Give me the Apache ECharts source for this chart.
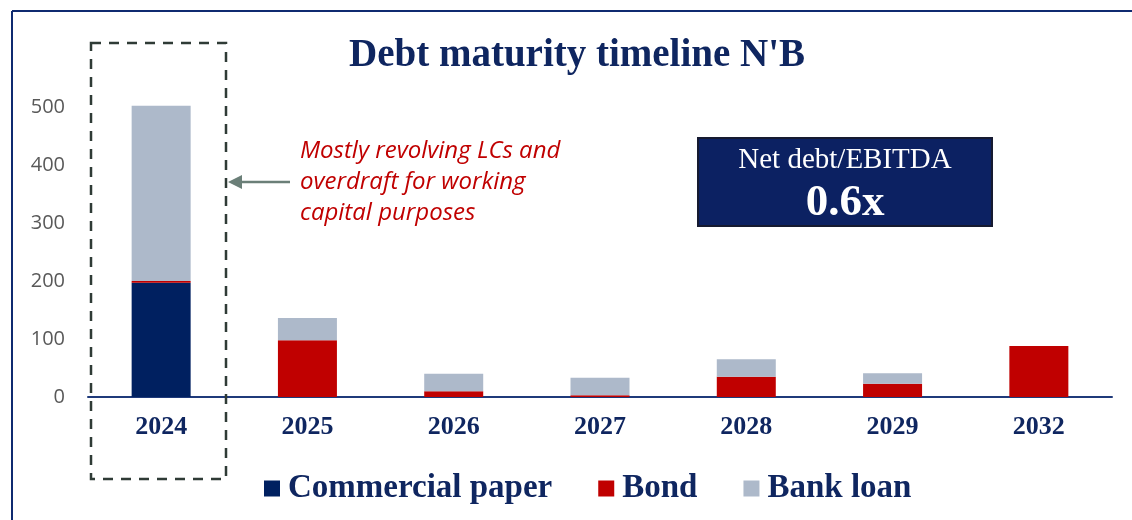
<!DOCTYPE html>
<html>
<head>
<meta charset="utf-8">
<script src="https://cdn.jsdelivr.net/npm/echarts@6/dist/echarts.min.js"></script>
<style>html,body{margin:0;padding:0;background:#fff}#c{width:1132px;height:520px}</style>
</head>
<body>
<div id="c"></div>
<script>
const categories = ['2024','2025','2026','2027','2028','2029','2032'];
const commercialPaper = [197, 0, 0, 0, 0, 0, 0];
const bond = [3, 98, 10, 3, 35, 23, 88];
const bankLoan = [302, 38, 30, 30, 30, 18, 0];
const yTicks = [0, 100, 200, 300, 400, 500];
const seriesNames = ['Commercial paper', 'Bond', 'Bank loan'];

const navy = '#0f2660';
const serif = '"Liberation Serif", "DejaVu Serif", serif';
const chart = echarts.init(document.getElementById('c'), null, {renderer: 'canvas'});

function bar(name, data, color) {
  return {
    name, type: 'bar', stack: 'total', data, barWidth: 59, clip: false,
    itemStyle: {color}, emphasis: {disabled: true}
  };
}

chart.setOption({
  animation: false,
  backgroundColor: '#fff',
  grid: {left: 88, right: 20, top: 107, bottom: 123},
  legend: {
    data: seriesNames, left: 259, top: 467, icon: 'rect',
    itemWidth: 16, itemHeight: 16, itemGap: 46,
    textStyle: {fontFamily: serif, fontWeight: 'bold', fontSize: 33, color: navy, padding: [0, 0, 0, 3]}
  },
  xAxis: {
    type: 'category', data: categories,
    axisLine: {lineStyle: {color: '#1f3a7a', width: 2}},
    axisTick: {show: false},
    axisLabel: {fontFamily: serif, fontWeight: 'bold', fontSize: 26, color: navy, margin: 17}
  },
  yAxis: {
    type: 'value', min: yTicks[0], max: yTicks[yTicks.length - 1], interval: 100,
    splitLine: {show: false},
    axisLine: {show: false}, axisTick: {show: false},
    axisLabel: {fontFamily: '"Open Sans", sans-serif', fontSize: 20, color: '#595959', margin: 23}
  },
  series: [
    bar(seriesNames[0], commercialPaper, '#002060'),
    bar(seriesNames[1], bond, '#c00000'),
    bar(seriesNames[2], bankLoan, '#adb9ca')
  ],
  graphic: [
    {type: 'line', shape: {x1: 12, y1: 11, x2: 1132, y2: 11}, style: {stroke: '#0f2a70', lineWidth: 2}},
    {type: 'line', shape: {x1: 12, y1: 11, x2: 12, y2: 520}, style: {stroke: '#0f2a70', lineWidth: 2}},
    {type: 'text', style: {text: "Debt maturity timeline N'B", x: 577, y: 56, textAlign: 'center', textVerticalAlign: 'middle',
      font: 'bold 39px ' + serif, fill: navy}},
    {type: 'rect', shape: {x: 91, y: 43, width: 135, height: 436}, style: {fill: 'none', stroke: '#2f3b36', lineWidth: 2.5, lineDash: [10, 8]}, z: 10},
    {type: 'line', shape: {x1: 290, y1: 182, x2: 238, y2: 182}, style: {stroke: '#6b7f78', lineWidth: 2.5}},
    {type: 'polygon', shape: {points: [[228, 182], [242, 175], [242, 189]]}, style: {fill: '#6b7f78'}},
    {type: 'text', style: {text: 'Mostly revolving LCs and\noverdraft for working\ncapital purposes', x: 300, y: 136,
      font: 'italic 24px "Open Sans", sans-serif', fill: '#c00000', lineHeight: 31}},
    {type: 'rect', shape: {x: 698, y: 138, width: 294, height: 88}, style: {fill: '#0c2162', stroke: '#161a30', lineWidth: 2}},
    {type: 'text', style: {text: 'Net debt/EBITDA', x: 845, y: 160, textAlign: 'center', textVerticalAlign: 'middle',
      font: '29px ' + serif, fill: '#ffffff'}},
    {type: 'text', style: {text: '0.6x', x: 845, y: 203, textAlign: 'center', textVerticalAlign: 'middle',
      font: 'bold 45px ' + serif, fill: '#ffffff'}}
  ]
});
</script>
</body>
</html>
